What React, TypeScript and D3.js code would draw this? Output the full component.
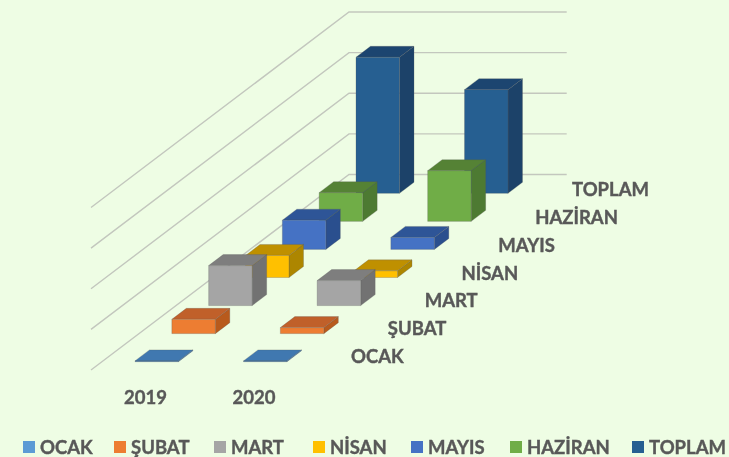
import React from "react";
import * as d3 from "d3";

const years = ["2019", "2020"];
const months = ["OCAK", "ŞUBAT", "MART", "NİSAN", "MAYIS", "HAZİRAN", "TOPLAM"];
const values2019 = [10, 176, 492, 271, 360, 353, 1674];
const values2020 = [10, 74, 308, 82, 148, 624, 1276];
const gridValues = [0, 500, 1000, 1500, 2000];
const frontColors = ["#3F78B0", "#ED7D31", "#A5A5A5", "#FFC000", "#4472C4", "#70AD47", "#255E91"];
const topColors = ["#3F78B0", "#C0602A", "#7E7E7E", "#BF9000", "#2F5597", "#548235", "#1C4570"];
const sideColors = ["#3F78B0", "#B85A1E", "#727272", "#AD8600", "#2A4F8E", "#4E7A30", "#1A4269"];
const legendSwatchColors = ["#5B9BD5", "#ED7D31", "#A5A5A5", "#FFC000", "#4472C4", "#70AD47", "#255E91"];
const legendX = [23, 114, 214, 313, 411, 510, 632];

const W = 729, H = 457;
const FONT = "Lato, 'Open Sans', sans-serif";
const TEXT = "#595959";
const BG = "#EEFDE4";
const barW = 43.5, depthX = 14.5, depthY = 11;

const heightScale = d3.scaleLinear().domain([0, 2000]).range([0, 162.5]);
const yearX = d3.scaleLinear().domain([0, 1]).range([135, 243.5]);
const rowDX = d3.scaleLinear().domain([0, 6]).range([0, 221]);
const rowY = d3.scaleLinear().domain([0, 6]).range([361.7, 193.3]);
const labelY = d3.scaleLinear().domain([0, 6]).range([363, 196]);

function poly(points: [number, number][]) {
  return d3.line()(points)! + "Z";
}

function Bar({ yi, mi, value }: { yi: number; mi: number; value: number }) {
  const x0 = yearX(yi) + rowDX(mi);
  const x1 = x0 + barW;
  const bottom = rowY(mi);
  const top = bottom - heightScale(value);
  const edge = "rgba(90,90,90,0.45)";
  return (
    <g stroke={edge} strokeWidth={0.6} strokeLinejoin="round">
      <path d={poly([[x1, top], [x1 + depthX, top - depthY], [x1 + depthX, bottom - depthY], [x1, bottom]])} fill={sideColors[mi]} />
      <path d={poly([[x0, top], [x0 + depthX, top - depthY], [x1 + depthX, top - depthY], [x1, top]])} fill={topColors[mi]} />
      <rect x={x0} y={top} width={barW} height={bottom - top} fill={frontColors[mi]} />
    </g>
  );
}

export default function App() {
  const order = d3.range(months.length).reverse();
  const series = [values2019, values2020];
  return (
    <svg width={W} height={H} viewBox={`0 0 ${W} ${H}`} style={{ position: "fixed", left: 0, top: 0, background: BG, display: "block" }}>
      <defs>
        <filter id="soft" x="-5%" y="-5%" width="110%" height="110%">
          <feGaussianBlur stdDeviation="0.45" />
        </filter>
      </defs>
      <g filter="url(#soft)">
        {gridValues.map((v) => {
          const h = heightScale(v);
          return (
            <path key={v} d={d3.line()([[91, 370 - h], [349, 174.5 - h], [566.7, 174.5 - h]])!} fill="none" stroke="#C3C7BE" strokeWidth={1.4} />
          );
        })}
        {order.map((mi) => (
          <g key={months[mi]}>
            {years.map((y, yi) => (
              <Bar key={y} yi={yi} mi={mi} value={series[yi][mi]} />
            ))}
          </g>
        ))}
        <g fontFamily={FONT} fontWeight={700} fontSize={18.5} fill={TEXT} stroke={TEXT} strokeWidth={0.4}>
          {years.map((y, yi) => (
            <text key={y} x={yearX(yi) - 11} y={403.5}>{y}</text>
          ))}
          {months.map((m, i) => (
            <text key={m} x={351 + rowDX(i)} y={labelY(i)}>{m}</text>
          ))}
          {months.map((m, i) => (
            <g key={m}>
              <rect x={legendX[i]} y={441} width={12} height={12} fill={legendSwatchColors[i]} stroke="none" />
              <text x={legendX[i] + 17} y={453.5}>{m}</text>
            </g>
          ))}
        </g>
      </g>
    </svg>
  );
}
